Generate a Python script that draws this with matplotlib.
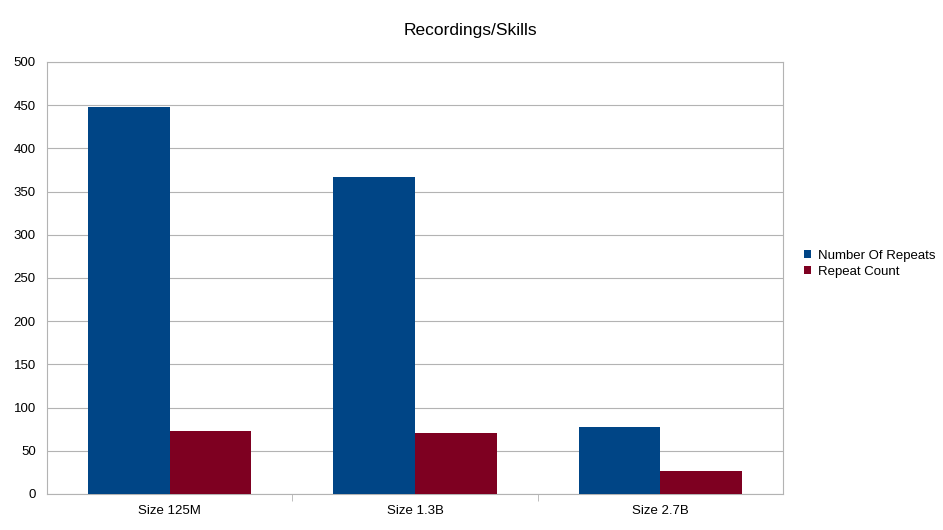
import numpy as np
import matplotlib.pyplot as plt

plt.rcParams['font.family'] = ['Liberation Sans', 'DejaVu Sans']

categories = ["Size 125M", "Size 1.3B", "Size 2.7B"]
number_of_repeats = [448, 367, 78]
repeat_count = [73, 71, 27]

fig = plt.figure(figsize=(9.43, 5.30), dpi=100)
ax = fig.add_axes([47 / 943, 36 / 530, 736 / 943, 432 / 530])

x = np.arange(len(categories))
w = 0.333
ax.bar(x - w / 2, number_of_repeats, w, color='#004586', label='Number Of Repeats', zorder=3)
ax.bar(x + w / 2, repeat_count, w, color='#7e0021', label='Repeat Count', zorder=3)

ax.set_xlim(-0.5, 2.5)
ax.set_ylim(0, 500)
ax.set_yticks(range(0, 501, 50))
ax.set_xticks(x)
ax.set_xticklabels(categories)
ax.set_xticks([0.5, 1.5], minor=True)
ax.tick_params(axis='x', which='major', length=0, pad=8)
ax.tick_params(axis='x', which='minor', length=5, color='#b3b3b3')
ax.tick_params(axis='y', length=0, pad=8)
ax.tick_params(labelsize=9.5)
ax.yaxis.grid(True, color='#b3b3b3', linewidth=0.8, zorder=0)
for s in ax.spines.values():
    s.set_color('#b3b3b3')

fig.text(470 / 943, 1 - 30 / 530, "Recordings/Skills", ha='center', va='center', fontsize=12.5)
fig.legend(*ax.get_legend_handles_labels(), loc='center left',
           bbox_to_anchor=(795 / 943, 1 - 264 / 530), frameon=False,
           fontsize=9.5, handlelength=0.55, handleheight=0.55, handletextpad=0.5,
           labelspacing=0.3, borderpad=0.2)

fig.savefig("out.png", dpi=100)
